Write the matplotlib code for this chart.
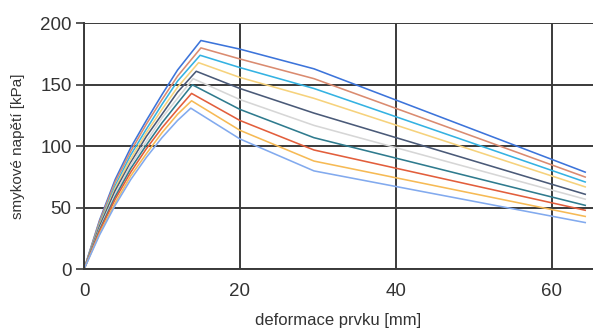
import matplotlib
matplotlib.use("Agg")
import matplotlib.pyplot as plt

plt.rcParams['font.family'] = ['Liberation Sans', 'DejaVu Sans']

# Each series: x (deformation, mm) and y (shear stress, kPa), top to bottom
x_s1 = [0, 2, 4, 6, 8, 10, 12, 15.0, 20, 29.5, 64.3]
y_s1 = [0, 40, 73, 99, 121, 142, 162, 186, 179, 163, 79]
x_s2 = [0, 2, 4, 6, 8, 10, 12, 15.0, 20, 29.5, 64.3]
y_s2 = [0, 39, 71, 96, 118, 138, 157, 180, 171, 155, 75]
x_s3 = [0, 2, 4, 6, 8, 10, 12, 14.9, 20, 29.5, 64.3]
y_s3 = [0, 37, 68, 93, 114, 134, 153, 174, 164, 147, 71]
x_s4 = [0, 2, 4, 6, 8, 10, 12, 14.7, 20, 29.5, 64.3]
y_s4 = [0, 36, 66, 90, 111, 130, 148, 168, 156, 139, 67]
x_s5 = [0, 2, 4, 6, 8, 10, 12, 14.4, 20, 29.5, 64.3]
y_s5 = [0, 35, 64, 87, 108, 126, 144, 161, 147, 127, 61]
x_s6 = [0, 2, 4, 6, 8, 10, 12, 14.0, 20, 29.5, 64.3]
y_s6 = [0, 33, 61, 85, 104, 123, 139, 155, 138, 117, 57]
x_s7 = [0, 2, 4, 6, 8, 10, 12, 13.9, 20, 29.5, 64.3]
y_s7 = [0, 32, 59, 82, 101, 119, 135, 150, 130, 107, 52]
x_s8 = [0, 2, 4, 6, 8, 10, 12, 13.8, 20, 29.5, 64.3]
y_s8 = [0, 31, 57, 79, 98, 115, 130, 143, 121, 97, 48]
x_s9 = [0, 2, 4, 6, 8, 10, 12, 13.8, 20, 29.5, 64.3]
y_s9 = [0, 29, 54, 76, 94, 111, 126, 137, 113, 88, 43]
x_s10 = [0, 2, 4, 6, 8, 10, 12, 13.7, 20, 29.5, 64.3]
y_s10 = [0, 28, 52, 73, 91, 107, 121, 131, 106, 80, 38]

series_x = [x_s1, x_s2, x_s3, x_s4, x_s5, x_s6, x_s7, x_s8, x_s9, x_s10]
series_y = [y_s1, y_s2, y_s3, y_s4, y_s5, y_s6, y_s7, y_s8, y_s9, y_s10]
colors = ['#3C74DA', '#DA8B70', '#34B2E2', '#F6D27C', '#4A5A78',
          '#D6D6D6', '#2F7B8E', '#E25E3C', '#F6BA55', '#82AAEE']

x_ticks = [0, 20, 40, 60]
y_ticks = [0, 50, 100, 150, 200]
x_label = 'deformace prvku [mm]'
y_label = 'smykové napětí [kPa]'

fig = plt.figure(figsize=(5.93, 3.31), dpi=100)
ax = fig.add_axes([84/593, 1 - 269.3/331, 1 - 84/593, (269.3 - 23.3)/331])

for xs, ys, c in zip(series_x, series_y, colors):
    ax.plot(xs, ys, color=c, lw=1.15, zorder=2, solid_joinstyle='round')

ax.set_xlim(0, 65.3)
ax.set_ylim(0, 200)
ax.set_xticks(x_ticks)
ax.set_yticks(y_ticks)
ax.grid(True, color='#3a3a3a', lw=1.4)
for l in ax.get_xgridlines() + ax.get_ygridlines():
    l.set_zorder(1)
for s in ['top', 'right']:
    ax.spines[s].set_visible(False)
for s in ['left', 'bottom']:
    ax.spines[s].set_color('#3a3a3a')
    ax.spines[s].set_linewidth(1.4)
ax.tick_params(axis='x', length=0, pad=10, labelsize=13.5, labelcolor='#333333')
ax.tick_params(axis='y', length=6, width=1.2, color='#3a3a3a', pad=3,
               labelsize=13.5, labelcolor='#333333')
ax.set_xlabel(x_label, fontsize=12, color='#333333', labelpad=9)
ax.set_ylabel(y_label, fontsize=11, color='#333333', labelpad=11)

fig.savefig('out.png', dpi=100)
